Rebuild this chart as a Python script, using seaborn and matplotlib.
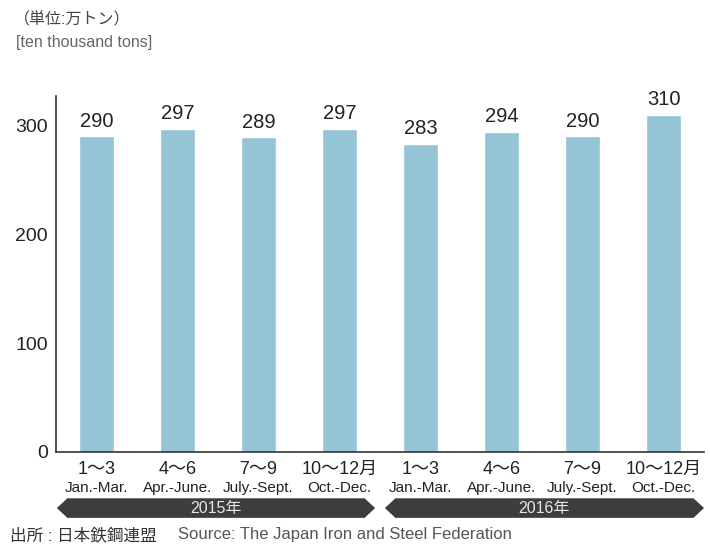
import matplotlib
matplotlib.use("Agg")
import matplotlib.pyplot as plt
from matplotlib.patches import Polygon
import matplotlib.transforms as mtransforms
import seaborn as sns
import pandas as pd

years = ["2015年", "2016年"]
quarters_jp = ["1〜3", "4〜6", "7〜9", "10〜12月"]
quarters_en = ["Jan.-Mar.", "Apr.-June.", "July.-Sept.", "Oct.-Dec."]
values = [290, 297, 289, 297, 283, 294, 290, 310]
yticks = [0, 100, 200, 300]

keys = [f"{y} {q}" for y in years for q in quarters_jp]
df = pd.DataFrame({"key": keys, "value": values})

sns.set_theme(style="white")
FONT = ["Liberation Sans", "Noto Sans CJK JP", "DejaVu Sans"]
plt.rcParams["font.family"] = FONT

fig = plt.figure(figsize=(7.1, 5.44), dpi=100)
ax = fig.add_axes([56/710, 1-452/544, (704-56)/710, (452-96)/544])

sns.barplot(data=df, x="key", y="value", order=keys, color="#95c4d6",
            width=0.44, saturation=1, ax=ax)

ax.set_xlim(-0.5, 7.5)
ax.set_ylim(0, 327)
ax.set_xlabel("")
ax.set_ylabel("")

for s in ["top", "right"]:
    ax.spines[s].set_visible(False)
for s in ["left", "bottom"]:
    ax.spines[s].set_color("#333333")
    ax.spines[s].set_linewidth(1.2)

ax.set_yticks(yticks)
ax.set_yticklabels([str(t) for t in yticks], fontsize=14, color="#222222")
ax.tick_params(axis="y", direction="in", length=6, width=1.1, color="#333333", pad=6)
ax.set_xticks([i + 0.5 for i in range(8)])
ax.set_xticklabels([])
ax.tick_params(axis="x", direction="in", length=7, width=1.1, color="#333333")

for i, v in enumerate(values):
    ax.text(i, v + 5, str(v), ha="center", va="bottom", fontsize=14.5, color="#222222")

trans = mtransforms.blended_transform_factory(ax.transData, ax.transAxes)
labels_jp = quarters_jp * 2
labels_en = quarters_en * 2
for i in range(8):
    ax.text(i, -0.048, labels_jp[i], transform=trans, ha="center", va="center",
            fontsize=13, color="#222222", clip_on=False)
    ax.text(i, -0.100, labels_en[i], transform=trans, ha="center", va="center",
            fontsize=11, color="#222222", clip_on=False)

y0, y1 = -0.130, -0.185
ym = (y0 + y1) / 2
tip = 0.13
spans = [(-0.49, 3.44), (3.56, 7.5)]
for (xa, xb), yr in zip(spans, years):
    poly = Polygon([(xa, ym), (xa + tip, y0), (xb - tip, y0), (xb, ym),
                    (xb - tip, y1), (xa + tip, y1)], closed=True,
                   transform=trans, facecolor="#3d3d3d", edgecolor="none", clip_on=False)
    ax.add_patch(poly)
    ax.text((xa + xb) / 2, ym, yr, transform=trans, ha="center", va="center",
            fontsize=11.5, color="#e6e6e6", clip_on=False)

fig.text(14/710, 1-20/544, "（単位:万トン）", ha="left", va="center",
         fontsize=11.5, color="#444444")
fig.text(16/710, 1-43/544, "[ten thousand tons]", ha="left", va="center",
         fontsize=11.5, color="#666666")
fig.text(10/710, 1-535/544, "出所 : 日本鉄鋼連盟", ha="left", va="center",
         fontsize=12, color="#333333")
fig.text(178/710, 1-535/544, "Source: The Japan Iron and Steel Federation", ha="left",
         va="center", fontsize=12, color="#555555")

fig.savefig("out.png", dpi=100)
